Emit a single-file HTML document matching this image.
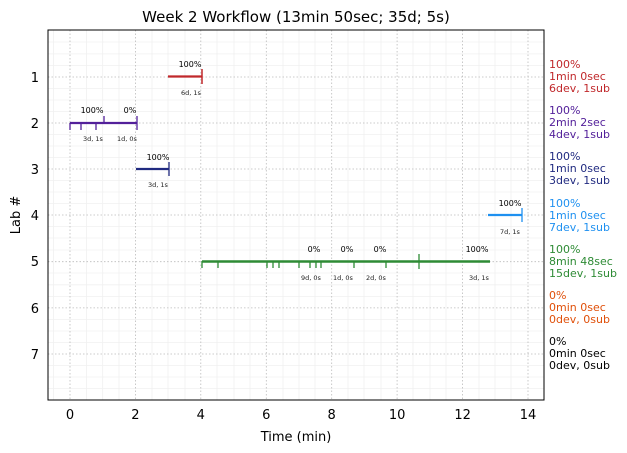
<!DOCTYPE html><html><head><style>body{margin:0;background:#fff}svg{display:block;font-family:"DejaVu Sans","Liberation Sans",sans-serif}</style></head><body>
<svg width="627" height="453" viewBox="0 0 627 453" xmlns="http://www.w3.org/2000/svg">
<rect width="627" height="453" fill="#fff"/>
<text x="296" y="22" font-size="15" text-anchor="middle">Week 2 Workflow (13min 50sec; 35d; 5s)</text>
<g stroke="#f0f0f0" stroke-width="0.8">
<line x1="86.4" y1="30" x2="86.4" y2="400"/><line x1="102.7" y1="30" x2="102.7" y2="400"/><line x1="119" y1="30" x2="119" y2="400"/>
<line x1="152" y1="30" x2="152" y2="400"/><line x1="168" y1="30" x2="168" y2="400"/><line x1="185" y1="30" x2="185" y2="400"/>
<line x1="217" y1="30" x2="217" y2="400"/><line x1="234" y1="30" x2="234" y2="400"/><line x1="250" y1="30" x2="250" y2="400"/>
<line x1="283" y1="30" x2="283" y2="400"/><line x1="299" y1="30" x2="299" y2="400"/><line x1="315" y1="30" x2="315" y2="400"/>
<line x1="348" y1="30" x2="348" y2="400"/><line x1="364" y1="30" x2="364" y2="400"/><line x1="381" y1="30" x2="381" y2="400"/>
<line x1="413" y1="30" x2="413" y2="400"/><line x1="430" y1="30" x2="430" y2="400"/><line x1="446" y1="30" x2="446" y2="400"/>
<line x1="479" y1="30" x2="479" y2="400"/><line x1="495" y1="30" x2="495" y2="400"/><line x1="511" y1="30" x2="511" y2="400"/>
<line x1="53.6" y1="30" x2="53.6" y2="400"/><line x1="544" y1="30" x2="544" y2="400"/>
<line x1="48" y1="42" x2="544" y2="42"/><line x1="48" y1="53.9" x2="544" y2="53.9"/><line x1="48" y1="65.5" x2="544" y2="65.5"/><line x1="48" y1="88.5" x2="544" y2="88.5"/><line x1="48" y1="100" x2="544" y2="100"/><line x1="48" y1="111.5" x2="544" y2="111.5"/><line x1="48" y1="134.5" x2="544" y2="134.5"/><line x1="48" y1="146" x2="544" y2="146"/><line x1="48" y1="157.5" x2="544" y2="157.5"/><line x1="48" y1="180.5" x2="544" y2="180.5"/><line x1="48" y1="192" x2="544" y2="192"/><line x1="48" y1="203.5" x2="544" y2="203.5"/><line x1="48" y1="226.5" x2="544" y2="226.5"/><line x1="48" y1="238" x2="544" y2="238"/><line x1="48" y1="250" x2="544" y2="250"/><line x1="48" y1="273" x2="544" y2="273"/><line x1="48" y1="284.8" x2="544" y2="284.8"/><line x1="48" y1="296.4" x2="544" y2="296.4"/><line x1="48" y1="319.4" x2="544" y2="319.4"/><line x1="48" y1="331" x2="544" y2="331"/><line x1="48" y1="342.5" x2="544" y2="342.5"/><line x1="48" y1="365.5" x2="544" y2="365.5"/><line x1="48" y1="377" x2="544" y2="377"/><line x1="48" y1="388.5" x2="544" y2="388.5"/>
</g>
<g stroke="#bbb" stroke-width="0.8" stroke-dasharray="1.5,2">
<line x1="70" y1="30" x2="70" y2="400"/><line x1="135.4" y1="30" x2="135.4" y2="400"/><line x1="200.8" y1="30" x2="200.8" y2="400"/><line x1="266.3" y1="30" x2="266.3" y2="400"/><line x1="331.7" y1="30" x2="331.7" y2="400"/><line x1="397.1" y1="30" x2="397.1" y2="400"/><line x1="462.6" y1="30" x2="462.6" y2="400"/><line x1="528" y1="30" x2="528" y2="400"/>
<line x1="48" y1="77" x2="544" y2="77"/><line x1="48" y1="123" x2="544" y2="123"/><line x1="48" y1="169" x2="544" y2="169"/><line x1="48" y1="215" x2="544" y2="215"/><line x1="48" y1="261.7" x2="544" y2="261.7"/><line x1="48" y1="307.9" x2="544" y2="307.9"/><line x1="48" y1="354" x2="544" y2="354"/>
</g>
<rect x="48" y="30" width="496" height="370" fill="none" stroke="#000" stroke-width="1"/>
<g font-size="13" text-anchor="middle">
<text x="70" y="419">0</text><text x="135.4" y="419">2</text><text x="200.8" y="419">4</text><text x="266.3" y="419">6</text><text x="331.7" y="419">8</text><text x="397.1" y="419">10</text><text x="462.6" y="419">12</text><text x="528" y="419">14</text>
<text x="296" y="441">Time (min)</text>
</g>
<g font-size="13" text-anchor="end">
<text x="39" y="82">1</text><text x="39" y="128">2</text><text x="39" y="174">3</text><text x="39" y="220">4</text><text x="39" y="266">5</text><text x="39" y="313">6</text><text x="39" y="359">7</text>
</g>
<text transform="translate(20,215) rotate(-90)" font-size="13" text-anchor="middle">Lab #</text>
<g stroke="#c0282b" stroke-width="2.2"><line x1="168" y1="76.5" x2="202" y2="76.5"/><line x1="202" y1="69" x2="202" y2="84" stroke-width="1.5"/></g>
<g stroke="#53209a" stroke-width="2.2"><line x1="70" y1="123" x2="137" y2="123"/>
<g stroke-width="1.3"><line x1="70" y1="123" x2="70" y2="130"/><line x1="81" y1="123" x2="81" y2="130"/><line x1="96" y1="123" x2="96" y2="130"/><line x1="104" y1="116" x2="104" y2="123"/><line x1="137" y1="116" x2="137" y2="130"/></g></g>
<g stroke="#202a80" stroke-width="2.2"><line x1="136" y1="169" x2="169" y2="169"/><line x1="169" y1="162" x2="169" y2="176" stroke-width="1.3"/></g>
<g stroke="#1e90f0" stroke-width="2.2"><line x1="488" y1="215" x2="522" y2="215"/><line x1="522" y1="208" x2="522" y2="222" stroke-width="1.3"/></g>
<g stroke="#2e8b35" stroke-width="2.4"><line x1="202" y1="261.5" x2="490" y2="261.5"/>
<g stroke-width="1.3"><line x1="202" y1="261" x2="202" y2="268"/><line x1="218" y1="261" x2="218" y2="268"/><line x1="267" y1="261" x2="267" y2="268"/><line x1="273" y1="261" x2="273" y2="268"/><line x1="279" y1="261" x2="279" y2="268"/><line x1="299" y1="261" x2="299" y2="268"/><line x1="310" y1="261" x2="310" y2="268"/><line x1="316" y1="261" x2="316" y2="268"/><line x1="321" y1="261" x2="321" y2="268"/><line x1="354" y1="261" x2="354" y2="268"/><line x1="386" y1="261" x2="386" y2="268"/><line x1="419" y1="254" x2="419" y2="269"/></g></g>
<g font-size="8" text-anchor="middle">
<text x="190" y="67">100%</text><text x="92" y="113">100%</text><text x="130" y="113">0%</text><text x="158" y="160">100%</text><text x="510" y="206">100%</text>
<text x="314" y="252">0%</text><text x="347" y="252">0%</text><text x="380" y="252">0%</text><text x="477" y="252">100%</text>
</g>
<g font-size="6.5" text-anchor="middle" fill="#222">
<text x="191" y="95">6d, 1s</text><text x="93" y="141">3d, 1s</text><text x="127" y="141">1d, 0s</text><text x="158" y="187">3d, 1s</text><text x="510" y="234">7d, 1s</text>
<text x="311" y="280">9d, 0s</text><text x="343" y="280">1d, 0s</text><text x="376" y="280">2d, 0s</text><text x="479" y="280">3d, 1s</text>
</g>
<g font-size="11">
<g fill="#c0282b"><text x="549" y="68">100%</text><text x="549" y="80">1min 0sec</text><text x="549" y="92">6dev, 1sub</text></g>
<g fill="#53209a"><text x="549" y="114">100%</text><text x="549" y="126">2min 2sec</text><text x="549" y="138">4dev, 1sub</text></g>
<g fill="#202a80"><text x="549" y="160">100%</text><text x="549" y="172">1min 0sec</text><text x="549" y="184">3dev, 1sub</text></g>
<g fill="#1e90f0"><text x="549" y="207">100%</text><text x="549" y="219">1min 0sec</text><text x="549" y="231">7dev, 1sub</text></g>
<g fill="#2e8b35"><text x="549" y="253">100%</text><text x="549" y="265">8min 48sec</text><text x="549" y="277">15dev, 1sub</text></g>
<g fill="#e0500a"><text x="549" y="299">0%</text><text x="549" y="311">0min 0sec</text><text x="549" y="323">0dev, 0sub</text></g>
<g fill="#000"><text x="549" y="345">0%</text><text x="549" y="357">0min 0sec</text><text x="549" y="369">0dev, 0sub</text></g>
</g>
</svg></body></html>
